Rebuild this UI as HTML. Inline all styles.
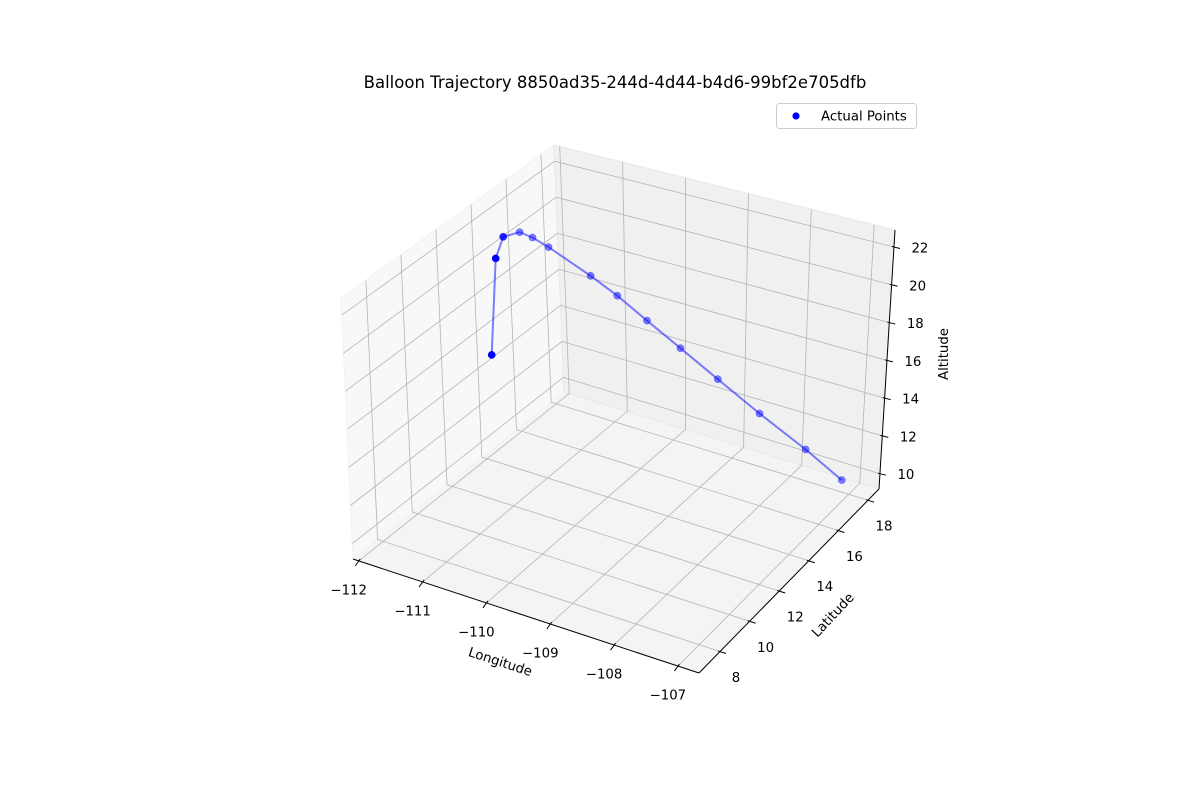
<!DOCTYPE html>
<html><head><meta charset="utf-8"><style>
html,body{margin:0;padding:0;background:#fff;}
svg{display:block;font-family:"DejaVu Sans","Liberation Sans",sans-serif;}
</style></head><body>
<svg id="chart" width="1200" height="800" viewBox="0 0 1200 800" xmlns="http://www.w3.org/2000/svg">
<rect width="1200" height="800" fill="#fff"/>
<g id="panes"></g>
<g id="grid"></g>
<g id="axes"></g>
<g id="series"></g>
<text x="615" y="88" text-anchor="middle" font-size="16.5" fill="#000">Balloon Trajectory 8850ad35-244d-4d44-b4d6-99bf2e705dfb</text>
<g>
<rect x="776.5" y="103.5" width="140" height="25" rx="3" fill="#fff" fill-opacity="0.8" stroke="#ccc"/>
<circle cx="796" cy="116" r="3.6" fill="#0000ff"/>
<text x="821" y="120.5" font-size="13.3" fill="#000">Actual Points</text>
</g>
<text transform="translate(499,666) rotate(18)" text-anchor="middle" font-size="13.3" fill="#000">Longitude</text>
<text transform="translate(836,618) rotate(-47)" text-anchor="middle" font-size="13.3" fill="#000">Latitude</text>
<text transform="translate(948,354) rotate(-90)" text-anchor="middle" font-size="13.3" fill="#000">Altitude</text>
</svg>
<script>
const lonValues = [-111.77, -111.62, -111.43, -111.21, -111.04, -110.84, -110.22, -109.85, -109.44, -108.98, -108.50, -107.98, -107.44, -107.17];
const latValues = [13.70, 13.60, 13.38, 13.52, 13.63, 13.80, 13.92, 14.10, 14.32, 14.61, 15.09, 15.75, 16.71, 18.17];
const altValues = [15.27, 20.7, 22.2, 22.55, 22.35, 21.9, 20.85, 20.0, 18.9, 17.65, 16.1, 14.28, 12.15, 9.64];
const lonTicks = [-112, -111, -110, -109, -108, -107];
const latTicks = [8, 10, 12, 14, 16, 18];
const altTicks = [10, 12, 14, 16, 18, 20, 22];

const LON = [-112.09, -106.67], LAT = [6.58, 18.74], ALT = [9.19, 22.9];
// screen corners c[lonIdx][latIdx][altIdx]
const C = {
 '000':[353,559],'100':[699,673],'110':[879,489],'010':[564,392],
 '001':[341,298],'101':[703,401],'111':[895,230],'011':[554,145]
};
function P(lon,lat,alt){
 const u=(lon-LON[0])/(LON[1]-LON[0]), v=(lat-LAT[0])/(LAT[1]-LAT[0]), w=(alt-ALT[0])/(ALT[1]-ALT[0]);
 let x=0,y=0;
 for(const i of [0,1])for(const j of [0,1])for(const k of [0,1]){
  const f=(i?u:1-u)*(j?v:1-v)*(k?w:1-w); const c=C[''+i+j+k]; x+=f*c[0]; y+=f*c[1];
 }
 return [x,y];
}
const NS='http://www.w3.org/2000/svg';
function mk(tag,parent,attrs){const e=document.createElementNS(NS,tag);for(const a in attrs)e.setAttribute(a,attrs[a]);parent.appendChild(e);return e;}
const panes=document.getElementById('panes'),grid=document.getElementById('grid'),axes=document.getElementById('axes'),series=document.getElementById('series');
function poly(pts){return pts.map(p=>p[0].toFixed(1)+','+p[1].toFixed(1)).join(' ');}
const L0=LON[0],L1=LON[1],A0=LAT[0],A1=LAT[1],Z0=ALT[0],Z1=ALT[1];
let e;
e=mk('polygon',panes,{points:poly([P(L0,A0,Z0),P(L1,A0,Z0),P(L1,A1,Z0),P(L0,A1,Z0)]),fill:'#f4f4f4',stroke:'#eeeeee'});


e=mk('polygon',panes,{points:poly([P(L0,A0,Z0),P(L0,A1,Z0),P(L0,A1,Z1),P(L0,A0,Z1)]),fill:'#f8f8f8',stroke:'#f2f2f2'});


e=mk('polygon',panes,{points:poly([P(L0,A1,Z0),P(L1,A1,Z0),P(L1,A1,Z1),P(L0,A1,Z1)]),fill:'#f0f0f0',stroke:'#e8e8e8'});


const gs={stroke:'#b4b4b4','stroke-width':0.8,fill:'none'};
function pl(pts){return Object.assign({points:poly(pts)},gs);}
lonTicks.forEach(t=>{
 e=mk('polyline',grid,pl([P(t,A0,Z0),P(t,A1,Z0),P(t,A1,Z1)]));
 
 
});
latTicks.forEach(t=>{
 e=mk('polyline',grid,pl([P(L1,t,Z0),P(L0,t,Z0),P(L0,t,Z1)]));
 
 
});
altTicks.forEach(t=>{
 e=mk('polyline',grid,pl([P(L0,A0,t),P(L0,A1,t),P(L1,A1,t)]));
 
 
});
const ax={stroke:'#000','stroke-width':1,fill:'none'};
function line(a,b){return Object.assign({x1:a[0],y1:a[1],x2:b[0],y2:b[1]},ax);}
e=mk('line',axes,line(P(L0,A0,Z0),P(L1,A0,Z0)));


e=mk('line',axes,line(P(L1,A0,Z0),P(L1,A1,Z0)));


e=mk('line',axes,line(P(L1,A1,Z0),P(L1,A1,Z1)));


function txt(x,y,s){const t=mk('text',axes,{x:x.toFixed(1),y:y.toFixed(1),'text-anchor':'middle','dominant-baseline':'central','font-size':13.3,fill:'#000'});t.textContent=s;return t;}
function lab(v){return v<0?'\u2212'+Math.abs(v):''+v;}
lonTicks.forEach(t=>{
 const p=P(t,A0,Z0);
 e=mk('line',axes,line([p[0]+1.5,p[1]-2],[p[0]-3.5,p[1]+5]));
 
 
 e=txt(p[0]-10,p[1]+30,lab(t));
 
 
});
latTicks.forEach(t=>{
 const p=P(L1,t,Z0);
 e=mk('line',axes,line([p[0]-2,p[1]-0.5],[p[0]+6,p[1]+2]));
 
 
 e=txt(p[0]+16,p[1]+27,lab(t));
 
 
});
altTicks.forEach(t=>{
 const p=P(L1,A1,t);
 e=mk('line',axes,line([p[0]-2,p[1]-0.5],[p[0]+6,p[1]+1.5]));
 
 
 e=txt(p[0]+26,p[1]+2,lab(t));
 
 
});
const pts=lonValues.map((v,i)=>P(v,latValues[i],altValues[i]));
e=mk('polyline',series,{points:poly(pts),fill:'none',stroke:'#0000ff','stroke-opacity':0.5,'stroke-width':2,'stroke-linejoin':'round'});


pts.forEach((p,i)=>{
 const op=i<2?1:(i===2?0.85:0.5);
 const c=mk('circle',series,{cx:p[0].toFixed(1),cy:p[1].toFixed(1),r:3.6,fill:'#0000ff','fill-opacity':op,stroke:'#0000ff','stroke-opacity':op,'stroke-width':0.5});
 
 
});
</script>
</body></html>
